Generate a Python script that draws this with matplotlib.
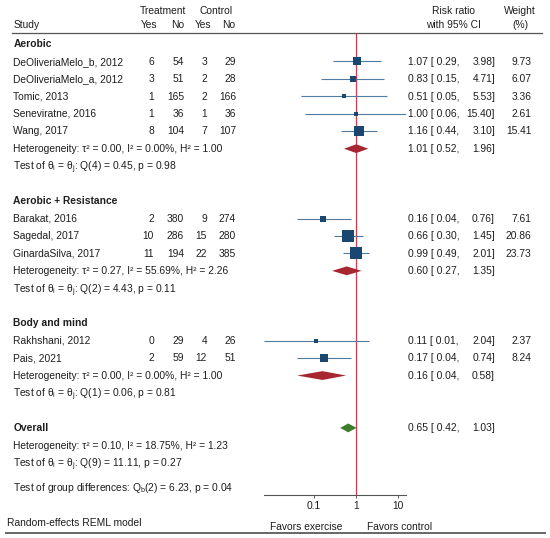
import matplotlib
matplotlib.use("Agg")
import matplotlib.pyplot as plt
import numpy as np

plt.rcParams['font.family'] = ['Liberation Sans', 'DejaVu Sans']
plt.rcParams['mathtext.fontset'] = 'custom'
plt.rcParams['mathtext.rm'] = 'Liberation Sans'

# ---------------- data ----------------
groups = ["Aerobic", "Aerobic + Resistance", "Body and mind"]
group_of = [0, 0, 0, 0, 0, 1, 1, 1, 2, 2]
studies = ["DeOliveriaMelo_b, 2012", "DeOliveriaMelo_a, 2012", "Tomic, 2013",
           "Seneviratne, 2016", "Wang, 2017", "Barakat, 2016", "Sagedal, 2017",
           "GinardaSilva, 2017", "Rakhshani, 2012", "Pais, 2021"]
treat_yes = [6, 3, 1, 1, 8, 2, 10, 11, 0, 2]
treat_no = [54, 51, 165, 36, 104, 380, 286, 194, 29, 59]
ctrl_yes = [3, 2, 2, 1, 7, 9, 15, 22, 4, 12]
ctrl_no = [29, 28, 166, 36, 107, 274, 280, 385, 26, 51]
rr = [1.07, 0.83, 0.51, 1.00, 1.16, 0.16, 0.66, 0.99, 0.11, 0.17]
rr_lo = [0.29, 0.15, 0.05, 0.06, 0.44, 0.04, 0.30, 0.49, 0.0065, 0.04]
rr_hi = [3.98, 4.71, 5.53, 15.40, 3.10, 0.76, 1.45, 2.01, 2.04, 0.74]
weight = [9.73, 6.07, 3.36, 2.61, 15.41, 7.61, 20.86, 23.73, 2.37, 8.24]

grp_rr = [1.01, 0.60, 0.16]
grp_lo = [0.52, 0.27, 0.04]
grp_hi = [1.96, 1.35, 0.58]
grp_tau2 = [0.00, 0.27, 0.00]
grp_i2 = [0.00, 55.69, 0.00]
grp_h2 = [1.00, 2.26, 1.00]
grp_qdf = [4, 2, 1]
grp_q = [0.45, 4.43, 0.06]
grp_p = [0.98, 0.11, 0.81]

ov_rr, ov_lo, ov_hi = 0.65, 0.42, 1.03
ov_tau2, ov_i2, ov_h2 = 0.10, 18.75, 1.23
ov_qdf, ov_q, ov_p = 9, 11.11, 0.27
qb_df, qb, qb_p = 2, 6.23, 0.04

xticks = [0.1, 1, 10]
xticklabels = ["0.1", "1", "10"]

# ---------------- style ----------------
FS = 7.4
TXT = '#1e1e1e'
NAVY = '#1a476f'
CI_COL = '#4f7ba3'
MAROON = '#a82632'
GREEN = '#3c7d2c'
REDLINE = '#d23c50'

W, H = 550, 538
fig = plt.figure(figsize=(W / 100, H / 100), dpi=100)
tx = fig.add_axes([0, 0, 1, 1])
tx.set_xlim(0, W)
tx.set_ylim(H, 0)
tx.axis('off')

x_left, x_right = 264, 406
ax = fig.add_axes([x_left / W, 0, (x_right - x_left) / W, 1])
ax.set_ylim(H, 0)
ax.set_xscale('log')
ax.set_xlim(min(rr_lo), max(rr_hi))
ax.patch.set_alpha(0)

y0, step = 44.0, 17.45
header_y, axis_y = 33.0, 495.0
TXT_DY = -0.8


def Y(line):
    return y0 + step * line


def t(x, y, s, ha='left', bold=False):
    tx.text(x, y + TXT_DY, s, ha=ha, va='center_baseline', fontsize=FS, color=TXT,
            fontweight='bold' if bold else 'normal')


# header
t(162.5, 10.5, "Treatment", ha='center')
t(216, 10.5, "Control", ha='center')
t(13.3, 25, "Study")
t(149.5, 25, "Yes", ha='center')
t(177.3, 25, "No", ha='center')
t(203.5, 25, "Yes", ha='center')
t(228.7, 25, "No", ha='center')
t(453, 10.5, "Risk ratio", ha='center')
t(453, 25, "with 95% CI", ha='center')
t(520, 10.5, "Weight", ha='center')
t(520, 25, "(%)", ha='center')
tx.plot([12, 541.7], [header_y, header_y], color='#555555', lw=0.9)

col_x = [154, 184, 207, 236]
EST_X, HI_X, W_X = 408.3, 495, 531.5


def ci_text(y, est, lo, hi):
    t(EST_X, y, f"{est:.2f} [ {lo:.2f},")
    t(HI_X, y, f"{hi:.2f}]", ha='right')


def diamond(y, est, lo, hi, color, h=4.4):
    ax.fill([lo, est, hi, est], [y, y - h, y, y + h], color=color, lw=0, zorder=4)


def het_text(y, tau2, i2, h2):
    t(13.3, y, f"Heterogeneity: τ² = {tau2:.2f}, I² = {i2:.2f}%, H² = {h2:.2f}")


def test_text(y, df, q, p):
    t(13.3, y, "Test of θ$_\\mathregular{i}$ = θ$_\\mathregular{j}$: "
               f"Q({df}) = {q:.2f}, p = {p:.2f}")


line = 0
for g, gname in enumerate(groups):
    t(13.3, Y(line), gname, bold=True)
    idx = [i for i, gg in enumerate(group_of) if gg == g]
    for k, i in enumerate(idx):
        y = Y(line + 1 + k)
        t(13.3, y, studies[i])
        for cx, v in zip(col_x, [treat_yes[i], treat_no[i], ctrl_yes[i], ctrl_no[i]]):
            t(cx, y, str(v), ha='right')
        ax.plot([rr_lo[i], rr_hi[i]], [y, y], color=CI_COL, lw=0.8, zorder=3,
                solid_capstyle='butt')
        ax.plot([rr[i]], [y], marker='s', color=NAVY, ms=2.45 * np.sqrt(weight[i]) * 0.72,
                mew=0, zorder=5)
        ci_text(y, rr[i], rr_lo[i], rr_hi[i])
        t(W_X, y, f"{weight[i]:.2f}", ha='right')
    yh = Y(line + len(idx) + 1)
    het_text(yh, grp_tau2[g], grp_i2[g], grp_h2[g])
    diamond(yh, grp_rr[g], grp_lo[g], grp_hi[g], MAROON)
    ci_text(yh, grp_rr[g], grp_lo[g], grp_hi[g])
    test_text(Y(line + len(idx) + 2), grp_qdf[g], grp_q[g], grp_p[g])
    line += len(idx) + 4

# overall
yo = Y(line)
t(13.3, yo, "Overall", bold=True)
diamond(yo, ov_rr, ov_lo, ov_hi, GREEN)
ci_text(yo, ov_rr, ov_lo, ov_hi)
het_text(Y(line + 1), ov_tau2, ov_i2, ov_h2)
test_text(Y(line + 2), ov_qdf, ov_q, ov_p)
t(13.3, Y(line + 3.35), "Test of group differences: Q$_\\mathregular{b}$"
                        f"({qb_df}) = {qb:.2f}, p = {qb_p:.2f}")

# null line
ax.vlines(1, header_y, axis_y, color=REDLINE, lw=0.9, zorder=2)

# axis
for s in ['left', 'right', 'top']:
    ax.spines[s].set_visible(False)
ax.spines['bottom'].set_position(('data', axis_y))
ax.spines['bottom'].set_color('#555555')
ax.spines['bottom'].set_linewidth(0.8)
ax.set_yticks([])
ax.set_xticks(xticks)
ax.set_xticklabels(xticklabels)
ax.xaxis.set_minor_locator(matplotlib.ticker.NullLocator())
ax.tick_params(axis='x', direction='out', length=2, width=0.7, color='#555555',
               labelsize=FS, labelcolor=TXT, pad=2.5)

# footer
t(7.3, 522.7, "Random-effects REML model")
t(342, 526.5, "Favors exercise", ha='right')
t(366.7, 526.5, "Favors control")
tx.plot([6, 545], [532.5, 532.5], color='#666666', lw=1.4)

fig.savefig("out.png", dpi=100)
